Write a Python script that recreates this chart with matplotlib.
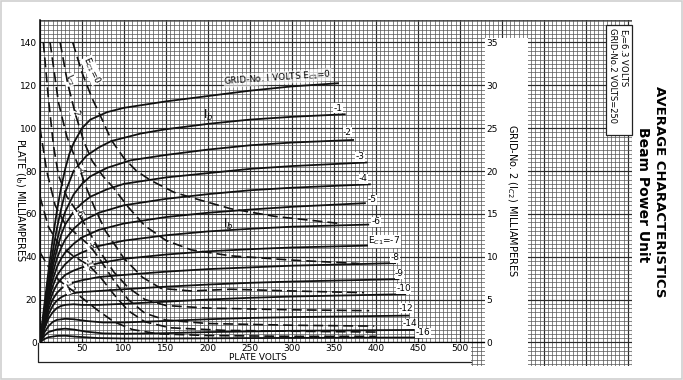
import numpy as np
import matplotlib.pyplot as plt
from matplotlib.patches import Rectangle

# ---- plate current Ib (mA, left scale) vs plate volts, one list per Ec1 ----
ib_g0 = [(0, 0), (5, 17), (10, 33), (15, 48), (20, 61), (25, 72), (30, 81), (35, 88), (40, 93), (50, 100),
         (60, 104), (80, 107.5), (100, 109.5), (150, 112.5), (200, 115), (250, 117.5), (300, 119.5), (356, 121)]
ib_g1 = [(0, 0), (5, 15), (10, 29), (15, 42), (20, 53), (25, 62), (30, 70), (40, 80), (55, 87), (70, 91),
         (85, 94), (120, 97.5), (150, 99.5), (200, 102), (250, 104), (300, 105.3), (364, 106.5)]
ib_g2 = [(0, 0), (5, 14), (10, 27), (15, 38), (20, 47), (25, 55), (30, 61), (40, 69), (50, 74), (60, 77.5),
         (80, 81.5), (108, 85), (150, 87.5), (200, 90), (250, 92), (300, 93.3), (374, 94.5)]
ib_g3 = [(0, 0), (5, 13), (10, 25), (15, 35), (20, 43), (25, 50), (30, 55), (40, 61), (50, 65), (60, 68),
         (80, 71.5), (100, 74), (150, 77), (200, 79), (250, 81), (300, 82.3), (390, 84)]
ib_g4 = [(0, 0), (5, 12), (10, 23), (15, 32), (20, 39), (25, 44), (30, 48), (40, 53), (50, 56.5), (70, 60.5),
         (100, 64), (150, 67), (200, 69.2), (250, 71), (300, 72.2), (394, 73.8)]
ib_g5 = [(0, 0), (5, 11), (10, 21), (15, 29), (20, 35), (25, 39), (30, 42), (40, 46), (50, 49), (70, 52.5),
         (100, 55.5), (150, 58.5), (200, 60.5), (250, 62), (300, 63.3), (388, 65)]
ib_g6 = [(0, 0), (5, 10), (10, 19), (15, 26), (20, 31), (25, 34), (30, 36.5), (40, 40), (50, 42), (70, 45),
         (100, 47.5), (150, 50), (200, 51.8), (250, 53), (300, 54), (392, 55)]
ib_g7 = [(0, 0), (5, 9), (10, 17), (15, 23), (20, 27), (25, 29.5), (30, 31.5), (40, 33.5), (50, 35), (70, 37),
         (100, 39), (150, 41), (200, 42.5), (250, 43.5), (300, 44.3), (424, 45.5)]
ib_g8 = [(0, 0), (5, 8), (10, 15), (15, 20), (20, 23), (25, 25), (30, 26.5), (40, 28), (50, 29), (70, 30.5),
         (100, 31.5), (150, 33), (200, 34.2), (250, 35), (300, 35.8), (424, 37)]
ib_g9 = [(0, 0), (5, 7), (10, 13), (15, 17), (20, 19.5), (25, 21), (30, 22), (40, 23), (50, 23.5), (70, 24),
         (100, 24.8), (150, 26), (200, 27), (250, 27.8), (300, 28.4), (428, 29.5)]
ib_g10 = [(0, 0), (5, 6), (10, 11), (15, 14), (20, 16), (25, 17), (30, 17.5), (40, 17.8), (50, 17.5), (70, 17.5),
          (100, 18), (150, 19), (200, 20), (250, 20.8), (300, 21.4), (436, 22.5)]
ib_g12 = [(0, 0), (5, 4.5), (10, 7.5), (15, 9.5), (20, 10.5), (30, 11), (40, 10.8), (55, 10), (75, 9.3),
          (100, 9.3), (150, 10), (200, 10.8), (250, 11.4), (300, 11.8), (440, 12.5)]
ib_g14 = [(0, 0), (5, 3), (10, 4.8), (20, 6), (30, 6.4), (40, 6), (55, 5), (75, 4.2), (100, 4), (150, 4.3),
          (200, 4.8), (250, 5.1), (300, 5.4), (446, 5.8)]
ib_g16 = [(0, 0), (5, 1.5), (10, 2.4), (20, 3), (30, 3.1), (45, 2.6), (70, 2), (100, 1.8), (150, 1.8),
          (250, 2), (455, 2.3)]
plate_curves = [ib_g0, ib_g1, ib_g2, ib_g3, ib_g4, ib_g5, ib_g6, ib_g7, ib_g8, ib_g9,
                ib_g10, ib_g12, ib_g14, ib_g16]

# ---- screen current Ic2 (mA, right scale), dashed ----
ic2_g0 = [(39, 35), (50, 31.5), (62, 28.5), (75, 25.8), (85, 23.6), (100, 21.5), (115, 20), (132, 18.9),
          (160, 17.5), (191, 16.6), (227, 15.6), (280, 14.7), (355, 13.9)]
ic2_g2 = [(24, 35), (33, 30.2), (42, 26.7), (52, 23.5), (62, 21.2), (75, 19.4), (87, 18.1), (105, 15.8),
          (125, 13.6), (150, 11.9), (180, 10.8), (227, 10.1), (300, 9.6), (380, 9.2)]
ic2_g4 = [(12, 35), (22, 28), (32, 24), (42, 21.5), (48, 20), (55, 18.1), (65, 15.7), (78, 13), (100, 9.8),
          (122, 7.6), (144, 6.3), (180, 6), (227, 6.2), (300, 6), (386, 5.8)]
ic2_g6 = [(4, 35), (10, 28.5), (16, 23), (22, 19.5), (32, 17), (46, 15), (58, 13), (72, 10.5), (88, 8.2),
          (105, 6.4), (125, 5), (150, 4.3), (200, 4), (300, 3.8), (392, 3.7)]
ic2_g8 = [(0, 25), (8, 20), (18, 16), (30, 13.8), (45, 12.5), (60, 11.2), (72, 9.6), (88, 7.2), (105, 5),
          (125, 3.4), (150, 2.6), (200, 2.2), (300, 2), (398, 1.9)]
ic2_g10 = [(0, 17), (10, 13.5), (22, 11.5), (38, 10.2), (58, 9), (72, 7.6), (88, 5.6), (105, 3.7),
           (125, 2.4), (155, 1.7), (220, 1.4), (300, 1.3), (402, 1.2)]
ic2_g12 = [(0, 10.5), (12, 8.5), (22, 7.3), (34, 6.4), (50, 5.2), (68, 3.8), (88, 2.4), (110, 1.5),
           (140, 1), (200, 0.8), (300, 0.7), (400, 0.7)]
screen_curves = [ic2_g0, ic2_g2, ic2_g4, ic2_g6, ic2_g8, ic2_g10, ic2_g12]

# axis ticks
volt_ticks = [50, 100, 150, 200, 250, 300, 350, 400, 450, 500]
ib_ticks = [0, 20, 40, 60, 80, 100, 120, 140]
ic2_ticks = [0, 5, 10, 15, 20, 25, 30, 35]

# curve labels at the right end of the plate curves
plate_labels = ['-1', '-2', '-3', '-4', '-5', '-6', 'E$_{C1}$=-7', '-8', '-9', '-10', '-12', '-14', '-16']
plate_label_xy = [(355, 109.4), (366, 98.1), (381, 86.6), (385, 76.3), (396, 66.5), (400, 56.2), (410, 47.3),
                  (423, 39.4), (428, 32), (433, 25), (436, 16), (441, 8.6), (456, 4.4)]
screen_labels = ['E$_{C1}$=0', 'I$_{C2}$', '-2', '-4', '-6', '-8', '-10', '-12']
screen_label_xy = [(62, 127), (36, 122.5), (42, 107), (48, 80), (46, 60.4), (60, 45), (58, 36), (34, 26)]


def main():
    W, H = 683, 380
    fig = plt.figure(figsize=(W / 100, H / 100), dpi=100)
    fig.patches.append(Rectangle((0.001, 0.003), 0.997, 0.994, transform=fig.transFigure,
                                 fill=False, edgecolor='#cfcfcf', lw=1.2))

    # pixel geometry of the scanned sheet
    gx0, gx1, gy0, gy1 = 40, 632, 20, 366     # graph paper
    px_per_v = 0.8397
    px_per_ma = 2.142
    v_max = (gx1 - gx0) / px_per_v
    y_top = 150.5
    y_bot = y_top - (gy1 - gy0) / px_per_ma

    # background graph paper
    bg = fig.add_axes([gx0 / W, 1 - gy1 / H, (gx1 - gx0) / W, (gy1 - gy0) / H])
    bg.set_xlim(0, v_max)
    bg.set_ylim(y_bot, y_top)
    bg.axis('off')
    for v in np.arange(0, v_max, 5):
        heavy = v % 50 == 0
        bg.axvline(v, color='#2a2a2a' if heavy else '#555', lw=0.85 if heavy else 0.5, zorder=1)
    for m in np.arange(-10, y_top, 2):
        heavy = m % 20 == 0
        bg.axhline(m, color='#2a2a2a' if heavy else '#555', lw=0.85 if heavy else 0.5, zorder=1)
    bg.axvline(v_max, color='#333', lw=0.8)
    bg.axhline(y_top, color='#333', lw=0.6)

    # white areas left on the sheet
    bg.add_patch(Rectangle((-3, y_bot - 1), 516, -y_bot + 0.8, facecolor='white', edgecolor='none',
                           zorder=3, clip_on=False))
    bg.plot([-2.5, -2.5, 513], [-0.2, -9.2, -9.2], color='#222', lw=0.9, zorder=4, clip_on=False)
    bg.add_patch(Rectangle((530, y_bot - 1), 51, 142.1 - y_bot + 1, facecolor='white', edgecolor='none',
                           zorder=3, clip_on=False))
    bg.add_patch(Rectangle((673.6, 96.6), v_max - 673.6, 51.5, facecolor='white', edgecolor='#222',
                           lw=0.9, zorder=3, clip_on=False))

    # data axes: plate volts 0..(right scale position)
    ax_right_px = 484
    ax = fig.add_axes([gx0 / W, 1 - gy1 / H + (0 - y_bot) * px_per_ma / H,
                       (ax_right_px - gx0) / W, (y_top * px_per_ma) / H])
    ax.patch.set_alpha(0)
    ax.set_xlim(0, (ax_right_px - gx0) / px_per_v)
    ax.set_ylim(0, y_top)
    for s in ['top', 'right']:
        ax.spines[s].set_visible(False)
    ax.spines['left'].set_linewidth(1.1)
    ax.spines['bottom'].set_linewidth(0.9)
    ax.set_xticks(volt_ticks)
    ax.set_yticks(ib_ticks)
    ax.tick_params(length=0, labelsize=6.5, pad=2)
    ax.tick_params(axis='x', pad=1.5)

    for pts in plate_curves:
        v, ma = zip(*pts)
        ax.plot(v, ma, color='#111', lw=1.3, solid_capstyle='butt', zorder=5)

    ax2 = ax.twinx()
    ax2.set_ylim(0, y_top / 4)
    ax2.set_yticks(ic2_ticks)
    ax2.tick_params(length=0, labelsize=6.5, pad=2)
    for s in ['top', 'right', 'left', 'bottom']:
        ax2.spines[s].set_visible(False)
    for pts in screen_curves:
        v, ma = zip(*pts)
        ax2.plot(v, ma, color='#111', lw=1.2, ls=(0, (6, 3)), zorder=5)

    # curve labels
    ax.text(283, 123.4, 'GRID-No. I VOLTS E$_{C1}$=0', fontsize=6.3, rotation=4,
            ha='center', va='center', zorder=6,
            bbox=dict(facecolor='white', edgecolor='none', pad=0.1, alpha=0.6))
    ax.text(200, 106, 'I$_b$', fontsize=8.5, ha='center', va='center', zorder=6)
    ax.text(224, 55, 'I$_b$', fontsize=8.5, ha='center', va='center', zorder=6)
    for lab, (x, y) in zip(plate_labels, plate_label_xy):
        ax.text(x, y, lab, fontsize=6.5, ha='center', va='center', zorder=6,
                bbox=dict(facecolor='white', edgecolor='none', pad=0.2))
    for lab, (x, y) in zip(screen_labels, screen_label_xy):
        ax.text(x, y, lab, fontsize=6.3, rotation=-65, ha='center', va='center', zorder=6,
                bbox=dict(facecolor='white', edgecolor='none', pad=0.2))

    # axis titles
    fig.text(20 / W, 1 - 200 / H, 'PLATE (I$_b$) MILLIAMPERES', rotation=270, fontsize=7,
             ha='center', va='center')
    fig.text(258 / W, 1 - 357 / H, 'PLATE VOLTS', fontsize=6.5, ha='center', va='center')
    fig.text(512 / W, 1 - 200 / H, 'GRID-No. 2 (I$_{C2}$) MILLIAMPERES', rotation=270, fontsize=7,
             ha='center', va='center')
    fig.text(623 / W, 1 - 28 / H, 'E$_f$=6.3 VOLTS', rotation=270, fontsize=6,
             ha='center', va='top')
    fig.text(613 / W, 1 - 28 / H, 'GRID-No.2 VOLTS=250', rotation=270, fontsize=6,
             ha='center', va='top')
    fig.text(660 / W, 1 - 192 / H, 'AVERAGE CHARACTERISTICS', rotation=270, fontsize=9.5,
             fontweight='bold', ha='center', va='center')
    fig.text(643 / W, 1 - 195 / H, 'Beam Power Unit', rotation=270, fontsize=10,
             fontweight='bold', ha='center', va='center')

    fig.savefig('out.png', dpi=100)
    plt.close(fig)


if __name__ == '__main__':
    main()
